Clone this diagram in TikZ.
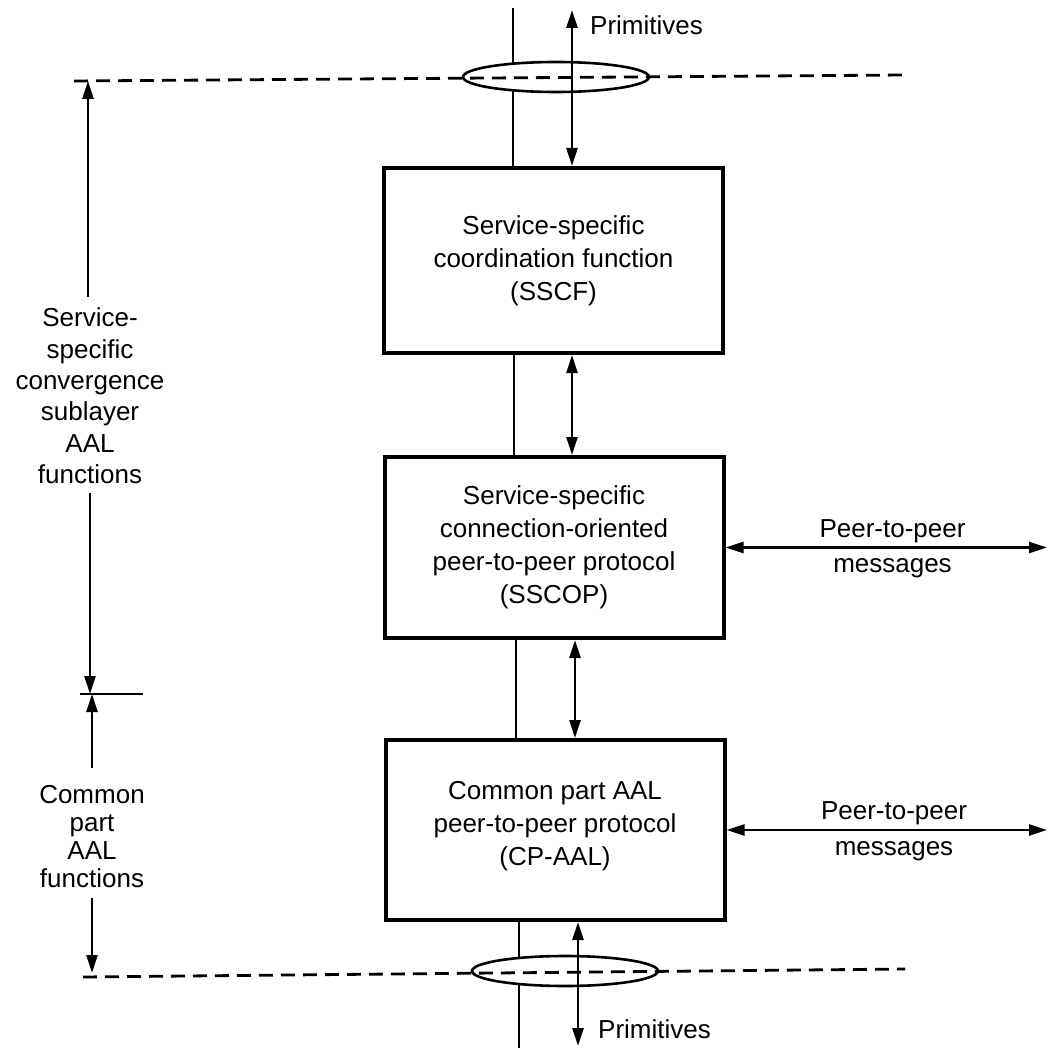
\documentclass[tikz,border=0pt]{standalone}
\usepackage{fontspec}
\setmainfont{Liberation Sans}
\usetikzlibrary{arrows.meta,shapes.geometric,calc}
\begin{document}
\begin{tikzpicture}[x=1pt,y=-1pt,
  box/.style={draw, line width=4pt, minimum width=339pt, inner sep=0pt, align=center,
    font=\fontsize{26}{33}\selectfont},
  ln/.style={line width=2.7pt},
  dline/.style={line width=2.8pt, dash pattern=on 14pt off 8pt},
  tip/.style={-{Triangle[length=18pt,width=11pt]}},
  dtip/.style={{Triangle[length=18pt,width=11pt]}-{Triangle[length=18pt,width=11pt]}},
  lbl/.style={font=\fontsize{26}{31.4}\selectfont, align=center, inner sep=0pt},
  oval/.style={ellipse, draw, line width=2.6pt, fill=white, minimum width=186pt, minimum height=30pt, inner sep=0pt}
]
\useasboundingbox[fill=white] (0,0) rectangle (1049,1048);

% boxes
\node[box, minimum height=185pt] (b1) at (553.5,260.5) {Service-specific\\coordination function\\(SSCF)};
\node[box, minimum height=181pt] (b2) at (554,547.5) {Service-specific\\connection-oriented\\peer-to-peer protocol\\(SSCOP)};
\node[box, minimum height=180pt] (b3) at (555,830) {Common part AAL\\peer-to-peer protocol\\(CP-AAL)\\[-19pt]};

% coordinates
\coordinate (L1) at (513,8);
\coordinate (L2) at (514,0);
\coordinate (L3) at (516,0);
\coordinate (L4) at (519,1048);
\coordinate (A1) at (572,10);
\coordinate (A2) at (572,0);
\coordinate (A3) at (575,0);
\coordinate (A4) at (578,1046);
\coordinate (PR) at (1047,0);
\coordinate (d1a) at (74,81);
\coordinate (d1b) at (905,75);
\coordinate (d2a) at (83,977);
\coordinate (d2b) at (905,969);

% plain vertical lines
\draw[ln] (L1) -- (L1 |- b1.north);
\draw[ln] (b1.south -| L2) -- (b2.north -| L2);
\draw[ln] (b2.south -| L3) -- (b3.north -| L3);
\draw[ln] (b3.south -| L4) -- (L4);

% ovals
\node[oval] (e1) at (556,77) {};
\node[oval] (e2) at (565,971) {};

% dashed boundary lines
\draw[dline] (d1a) -- (d1b);
\draw[dline] (d2a) -- (d2b);

% primitive arrows
\draw[ln,dtip] (A1) -- (A1 |- b1.north);
\draw[ln,dtip] (b1.south -| A2) -- (b2.north -| A2);
\draw[ln,dtip] (b2.south -| A3) -- (b3.north -| A3);
\draw[ln,dtip] (b3.south -| A4) -- (A4);
\node[lbl, anchor=base west] (pt) at (590,35) {Primitives};
\node[lbl, anchor=base west] (pb) at (598,1038) {Primitives};

% peer-to-peer arrows
\draw[ln,dtip] (b2.east) -- (b2.east -| PR);
\draw[ln,dtip] (b3.east) -- (b3.east -| PR);
\node[lbl, anchor=base] (m1a) at (892.5,537) {Peer-to-peer};
\node[lbl, anchor=base] (m1b) at (892.5,572) {messages};
\node[lbl, anchor=base] (m2a) at (894,819) {Peer-to-peer};
\node[lbl, anchor=base] (m2b) at (894,855) {messages};

% left dimension
\node[lbl] (ssc) at (90,396) {Service-\\specific\\convergence\\sublayer\\AAL\\functions};
\node[lbl, font=\fontsize{26}{28}\selectfont] (cp) at (92,837) {Common\\part\\AAL\\functions};
\coordinate (s1) at (88,297);
\coordinate (s2) at (90,493);
\coordinate (t1) at (80,694);
\coordinate (t2) at (143,694);
\coordinate (c1) at (92,768);
\coordinate (c2) at (92,898);
\draw[ln,tip] (s1) -- (s1 |- d1a);
\draw[ln,tip] (s2) -- (s2 |- t1);
\draw[ln] (t1) -- (t2);
\draw[ln,tip] (c1) -- (c1 |- t1);
\draw[ln,tip] (c2) -- ($(c2 |- d2a)+(0,-4)$);
\end{tikzpicture}
\end{document}
